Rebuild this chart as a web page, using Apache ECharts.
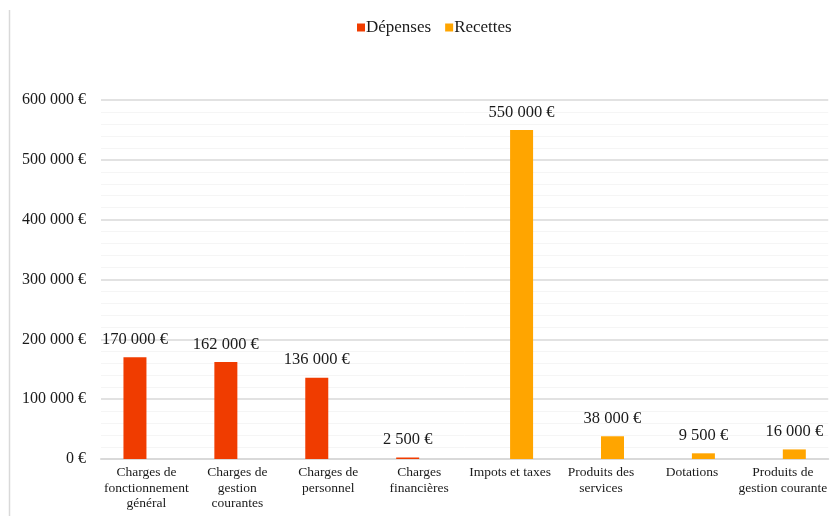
<!DOCTYPE html>
<html>
<head>
<meta charset="utf-8">
<script src="https://cdn.jsdelivr.net/npm/echarts@6/dist/echarts.min.js"></script>
<style>
  html, body { margin: 0; padding: 0; background: #fff; }
  #main { width: 830px; height: 516px; }
</style>
</head>
<body>
<div id="main"></div>
<script>
// catégories et valeurs
var categories = [
  "Charges de\nfonctionnement\ngénéral",
  "Charges de\ngestion\ncourantes",
  "Charges de\npersonnel",
  "Charges\nfinancières",
  "Impots et taxes",
  "Produits des\nservices",
  "Dotations",
  "Produits de\ngestion courante"
];
var depenses = [170000, 162000, 136000, 2500, null, null, null, null];
var recettes = [null, null, null, null, 550000, 38000, 9500, 16000];
var yTicks = [0, 100000, 200000, 300000, 400000, 500000, 600000];

function euro(v) {
  return String(v).replace(/\B(?=(\d{3})+(?!\d))/g, " ") + " €";
}

var font = "'Liberation Serif', 'Times New Roman', serif";
var myChart = echarts.init(document.getElementById("main"));

var option = {
  textStyle: { fontFamily: font, color: "#1a1a1a" },
  legend: {
    data: ["Dépenses", "Recettes"],
    left: 352,
    top: 14,
    itemWidth: 8,
    itemHeight: 8,
    itemGap: 14,
    icon: "rect",
    textStyle: { fontFamily: font, fontSize: 17, color: "#1a1a1a", padding: [0, 0, 0, -4] }
  },
  grid: { left: 101, top: 100, width: 731, height: 359 },
  xAxis: {
    type: "category",
    data: categories,
    axisLine: { lineStyle: { color: "#d9d9d9", width: 2 } },
    axisTick: { show: false },
    axisLabel: {
      interval: 0,
      fontFamily: font,
      fontSize: 13.5,
      lineHeight: 15.5,
      color: "#1a1a1a",
      margin: 6
    }
  },
  yAxis: {
    type: "value",
    min: yTicks[0],
    max: yTicks[yTicks.length - 1],
    interval: 100000,
    axisLine: { show: false },
    axisTick: { show: false },
    axisLabel: {
      fontFamily: font,
      fontSize: 16,
      color: "#1a1a1a",
      margin: 15,
      formatter: euro
    },
    splitLine: { lineStyle: { color: "#d9d9d9", width: 1.5 } },
    minorTick: { show: false, splitNumber: 5 },
    minorSplitLine: { show: true, lineStyle: { color: "#f5f5f5", width: 1 } }
  },
  series: [
    {
      name: "Dépenses",
      type: "bar",
      data: depenses,
      barWidth: 23,
      barGap: "0%",
      itemStyle: { color: "#f03c00" },
      label: {
        show: true,
        position: "top",
        distance: 9,
        fontFamily: font,
        fontSize: 16.5,
        color: "#1a1a1a",
        formatter: function (p) { return euro(p.value); }
      }
    },
    {
      name: "Recettes",
      type: "bar",
      data: recettes,
      barWidth: 23,
      itemStyle: { color: "#ffa500" },
      label: {
        show: true,
        position: "top",
        distance: 9,
        fontFamily: font,
        fontSize: 16.5,
        color: "#1a1a1a",
        formatter: function (p) { return euro(p.value); }
      }
    }
  ],
  graphic: [
    {
      type: "line",
      shape: { x1: 9.5, y1: 10, x2: 9.5, y2: 516 },
      style: { stroke: "#d9d9d9", lineWidth: 1.5 }
    }
  ]
};

myChart.setOption(option);
</script>
</body>
</html>
